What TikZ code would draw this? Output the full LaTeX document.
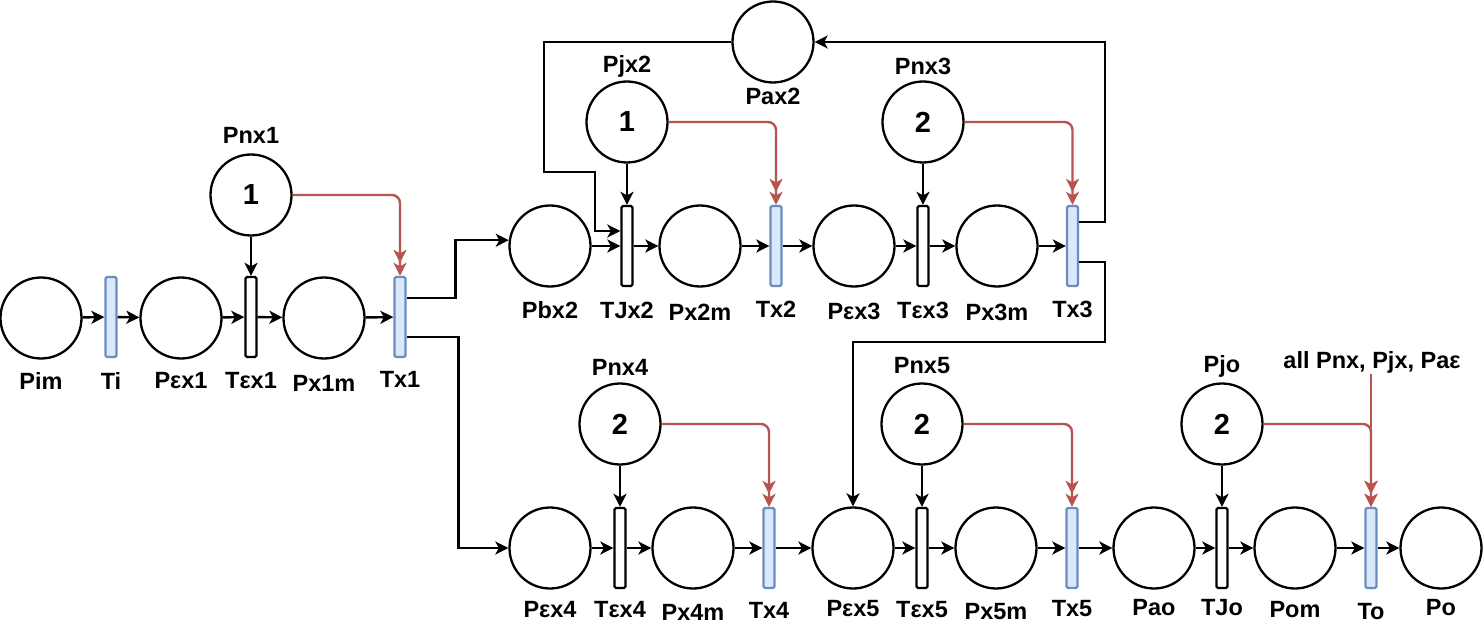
\documentclass[tikz,border=0pt]{standalone}
\usepackage{fontspec}
\setmainfont{Liberation Sans}
\usetikzlibrary{arrows.meta,calc}
\definecolor{redc}{HTML}{B85450}
\definecolor{tblue}{HTML}{6C8EBF}
\definecolor{tfill}{HTML}{DAE8FC}
\begin{document}
\begin{tikzpicture}[x=1pt,y=-1pt,
  place/.style={circle, draw, line width=2.3pt, minimum size=81pt, inner sep=0pt, font=\fontsize{29}{31}\selectfont\bfseries},
  trb/.style={rectangle, draw=tblue, fill=tfill, line width=2.3pt, minimum width=11pt, minimum height=80pt, rounded corners=1.5pt, inner sep=0pt},
  trw/.style={rectangle, draw=black, fill=white, line width=2.3pt, minimum width=11pt, minimum height=80pt, rounded corners=1.5pt, inner sep=0pt},
  lbl/.style={font=\fontsize{23.5}{26}\selectfont\bfseries, inner sep=1pt},
  arr/.style={draw=black, line width=2.4pt, -{Stealth[length=13pt,width=13pt,inset=3.5pt]}},
  redarr/.style={draw=redc, line width=2.4pt, rounded corners=8pt, -{Stealth[length=13pt,width=13pt,inset=3.5pt]Stealth[length=13pt,width=13pt,inset=3.5pt]}}]
\useasboundingbox (0,0) rectangle (1484,631);
% row 1
\node[place] (Pim) at (41,318) {};
\node[trb] (Ti) at (111,317) {};
\node[place] (Pex1) at (181,318) {};
\node[trw] (Tex1) at (251,317) {};
\node[place] (Px1m) at (324,318) {};
\node[trb] (Tx1) at (400,317) {};
\node[place] (Pnx1) at (251,195) {1};
% row 2
\node[place] (Pbx2) at (550,246) {};
\node[trw] (TJx2) at (627,246) {};
\node[place] (Px2m) at (700,246) {};
\node[trb] (Tx2) at (776,246) {};
\node[place] (Pex3) at (854,246) {};
\node[trw] (Tex3) at (923,246) {};
\node[place] (Px3m) at (997,246) {};
\node[trb] (Tx3) at (1072.5,246) {};
\node[place] (Pjx2) at (627,122) {1};
\node[place] (Pnx3) at (923,122) {2};
\node[place] (Pax2) at (773,42) {};
% row 3
\node[place] (Pex4) at (550,548) {};
\node[trw] (Tex4) at (620,548) {};
\node[place] (Px4m) at (693,548) {};
\node[trb] (Tx4) at (769,548) {};
\node[place] (Pex5) at (853,548) {};
\node[trw] (Tex5) at (922,548) {};
\node[place] (Px5m) at (996,548) {};
\node[trb] (Tx5) at (1072,548) {};
\node[place] (Pao) at (1154,548) {};
\node[trw] (TJo) at (1222,548) {};
\node[place] (Pom) at (1295,548) {};
\node[trb] (To) at (1371,548) {};
\node[place] (Po) at (1441,548) {};
\node[place] (Pnx4) at (620,424) {2};
\node[place] (Pnx5) at (922,424) {2};
\node[place] (Pjo) at (1222,424) {2};
% labels
\node[lbl] (lPim) at (41,381) {Pim};
\node[lbl] (lTi) at (111,381) {Ti};
\node[lbl] (lPex1) at (181,381) {Pεx1};
\node[lbl] (lTex1) at (251,381) {Tεx1};
\node[lbl] (lPx1m) at (324,383) {Px1m};
\node[lbl] (lTx1) at (400,379) {Tx1};
\node[lbl] (lPnx1) at (251,135) {Pnx1};
\node[lbl] (lPbx2) at (550,310) {Pbx2};
\node[lbl] (lTJx2) at (627,310) {TJx2};
\node[lbl] (lPx2m) at (700,312) {Px2m};
\node[lbl] (lTx2) at (776,309) {Tx2};
\node[lbl] (lPex3) at (854,311) {Pεx3};
\node[lbl] (lTex3) at (923,310) {Tεx3};
\node[lbl] (lPx3m) at (997,312) {Px3m};
\node[lbl] (lTx3) at (1072.5,309) {Tx3};
\node[lbl] (lPjx2) at (627,66) {Pjx2};
\node[lbl] (lPnx3) at (923,66) {Pnx3};
\node[lbl] (lPax2) at (773,96) {Pax2};
\node[lbl] (lPex4) at (550,610) {Pεx4};
\node[lbl] (lTex4) at (620,610) {Tεx4};
\node[lbl] (lPx4m) at (693,612) {Px4m};
\node[lbl] (lTx4) at (769,610) {Tx4};
\node[lbl] (lPex5) at (853,609) {Pεx5};
\node[lbl] (lTex5) at (922,610) {Tεx5};
\node[lbl] (lPx5m) at (996,612) {Px5m};
\node[lbl] (lTx5) at (1072,609) {Tx5};
\node[lbl] (lPao) at (1154,608) {Pao};
\node[lbl] (lTJo) at (1222,608) {TJo};
\node[lbl] (lPom) at (1295,610) {Pom};
\node[lbl] (lTo) at (1371,612) {To};
\node[lbl] (lPo) at (1441,608) {Po};
\node[lbl] (lPnx4) at (620,367) {Pnx4};
\node[lbl] (lPnx5) at (922,366) {Pnx5};
\node[lbl] (lPjo) at (1222,366) {Pjo};
\node[lbl] (lall) at (1372,362) {all Pnx, Pjx, Paε};
% row 1 arcs
\draw[arr] (Pim) -- (Ti);
\draw[arr] (Ti) -- (Pex1);
\draw[arr] (Pex1) -- (Tex1);
\draw[arr] (Tex1) -- (Px1m);
\draw[arr] (Px1m) -- (Tx1);
\draw[arr] (Pnx1) -- (Tex1);
\draw[redarr] (Pnx1.east) -| (Tx1.north);
\draw[arr] ([yshift=19pt]Tx1.east) -- ++(49,0) |- (Pbx2.172);
\draw[arr] ([yshift=-20pt]Tx1.east) -- ++(52,0) |- (Pex4);
% row 2 arcs
\draw[arr] (Pbx2) -- (TJx2);
\draw[arr] (TJx2) -- (Px2m);
\draw[arr] (Px2m) -- (Tx2);
\draw[arr] (Tx2) -- (Pex3);
\draw[arr] (Pex3) -- (Tex3);
\draw[arr] (Tex3) -- (Px3m);
\draw[arr] (Px3m) -- (Tx3);
\draw[arr] (Pjx2) -- (TJx2);
\draw[arr] (Pnx3) -- (Tex3);
\draw[redarr] (Pjx2.east) -| (Tx2.north);
\draw[redarr] (Pnx3.east) -| (Tx3.north);
\draw[arr] ([yshift=24pt]Tx3.east) -- (1105,222) |- (Pax2);
\draw[arr] (Pax2.west) -- (544,42) -- (544,172) -- (595,172) -- (595,231) -- ([yshift=15pt]TJx2.west);
\draw[arr] ([yshift=-16pt]Tx3.east) -- (1105,262) -- (1105,342) -| (Pex5);
% row 3 arcs
\draw[arr] (Pex4) -- (Tex4);
\draw[arr] (Tex4) -- (Px4m);
\draw[arr] (Px4m) -- (Tx4);
\draw[arr] (Tx4) -- (Pex5);
\draw[arr] (Pex5) -- (Tex5);
\draw[arr] (Tex5) -- (Px5m);
\draw[arr] (Px5m) -- (Tx5);
\draw[arr] (Tx5) -- (Pao);
\draw[arr] (Pao) -- (TJo);
\draw[arr] (TJo) -- (Pom);
\draw[arr] (Pom) -- (To);
\draw[arr] (To) -- (Po);
\draw[arr] (Pnx4) -- (Tex4);
\draw[arr] (Pnx5) -- (Tex5);
\draw[arr] (Pjo) -- (TJo);
\draw[redarr] (Pnx4.east) -| (Tx4.north);
\draw[redarr] (Pnx5.east) -| (Tx5.north);
\draw[redarr] (Pjo.east) -| (To.north);
\draw[redarr] (lall.south -| To.north) -- (To.north);
\end{tikzpicture}
\end{document}
